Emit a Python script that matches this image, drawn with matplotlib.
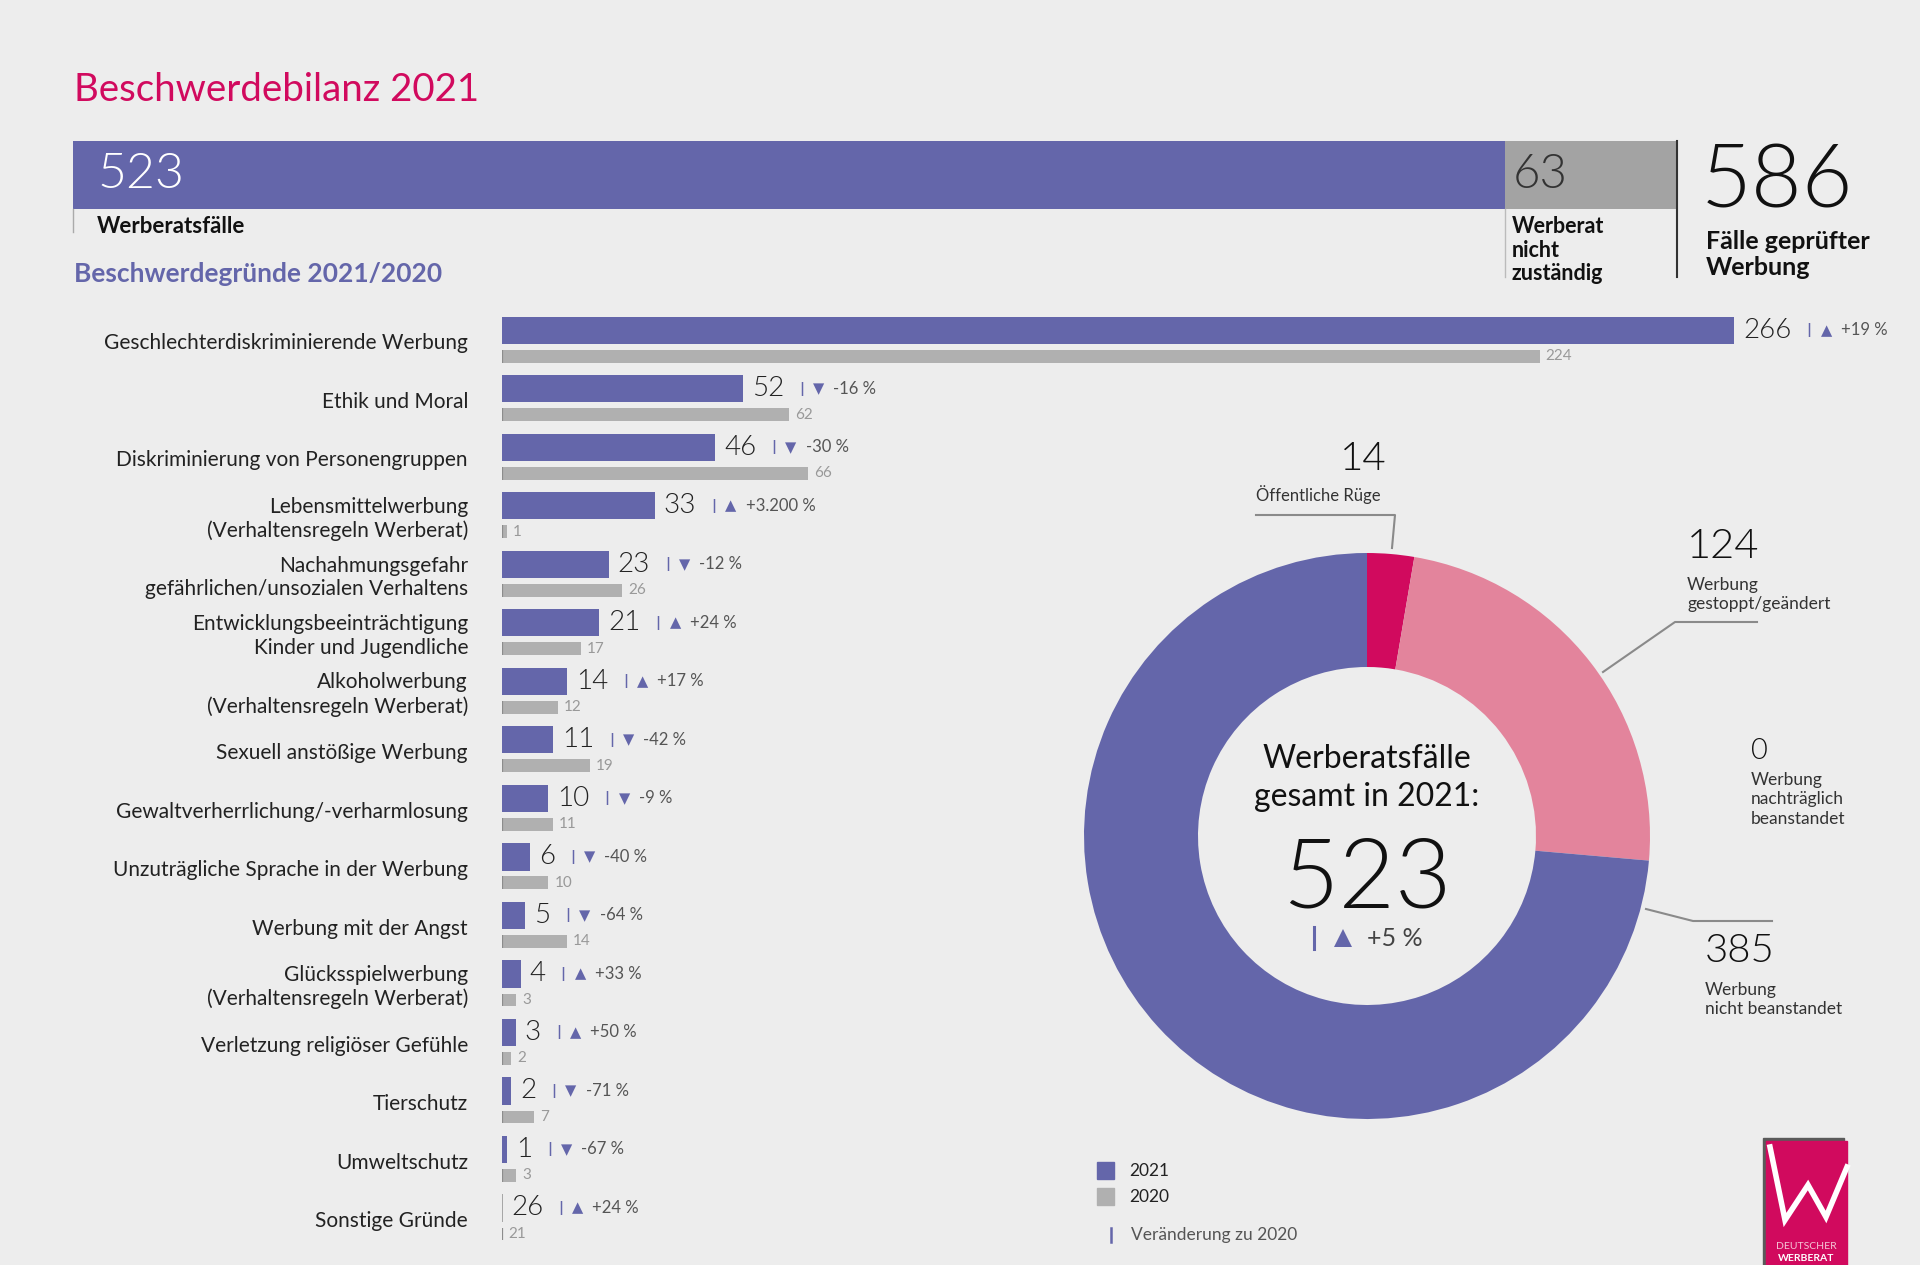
import numpy as np
import matplotlib
matplotlib.use('Agg')
import matplotlib.pyplot as plt
from matplotlib.patches import Rectangle

plt.rcParams['font.family'] = ['Lato', 'DejaVu Sans']

PURPLE = '#6466aa'
GRAY = '#b0b0b0'
BOXGRAY = '#a3a3a3'
MAGENTA = '#d10a5e'
PINK = '#e3849c'
BG = '#ededed'
DARK = '#222222'
LIGHT = 300

# --- data ---
total_checked = 586
werberat_cases = 523
not_responsible = 63

categories = [
    'Geschlechterdiskriminierende Werbung',
    'Ethik und Moral',
    'Diskriminierung von Personengruppen',
    'Lebensmittelwerbung\n(Verhaltensregeln Werberat)',
    'Nachahmungsgefahr\ngefährlichen/unsozialen Verhaltens',
    'Entwicklungsbeeinträchtigung\nKinder und Jugendliche',
    'Alkoholwerbung\n(Verhaltensregeln Werberat)',
    'Sexuell anstößige Werbung',
    'Gewaltverherrlichung/-verharmlosung',
    'Unzuträgliche Sprache in der Werbung',
    'Werbung mit der Angst',
    'Glücksspielwerbung\n(Verhaltensregeln Werberat)',
    'Verletzung religiöser Gefühle',
    'Tierschutz',
    'Umweltschutz',
    'Sonstige Gründe',
]
cases_2021 = [266, 52, 46, 33, 23, 21, 14, 11, 10, 6, 5, 4, 3, 2, 1, 26]
cases_2020 = [224, 62, 66, 1, 26, 17, 12, 19, 11, 10, 14, 3, 2, 7, 3, 21]
change_pct = ['+19', '-16', '-30', '+3.200', '-12', '+24', '+17', '-42',
              '-9', '-40', '-64', '+33', '+50', '-71', '-67', '+24']

outcome_labels = ['Öffentliche Rüge', 'Werbung\ngestoppt/geändert',
                  'Werbung\nnachträglich\nbeanstandet', 'Werbung\nnicht beanstandet']
outcome_values = [14, 124, 0, 385]
total_change = '+5'

W, H = 1920, 1265
fig = plt.figure(figsize=(W / 100, H / 100), dpi=100, facecolor=BG)


def px_axes(left, top, w, h):
    a = fig.add_axes([left / W, 1 - (top + h) / H, w / W, h / H])
    a.set_facecolor('none')
    return a


# canvas in pixel coordinates for free text
cv = px_axes(0, 0, W, H)
cv.set_xlim(0, W)
cv.set_ylim(H, 0)
cv.axis('off')

cv.text(74, 101, 'Beschwerdebilanz 2021', color=MAGENTA, fontsize=27.7,
        va='baseline', ha='left')
cv.text(74, 282, 'Beschwerdegründe 2021/2020', color=PURPLE, fontsize=19,
        fontweight='bold', va='baseline', ha='left')

# --- top summary bar ---
at = px_axes(73, 141, 1604, 68)
at.set_xlim(0, total_checked)
at.set_ylim(0, 1)
at.axis('off')
at.barh(0.5, werberat_cases, height=1, color=PURPLE)
at.barh(0.5, not_responsible, left=werberat_cases, height=1, color=BOXGRAY)
at.plot([0, 0], [0, -0.34], color='#aaaaaa', lw=1, clip_on=False)
at.plot([werberat_cases] * 2, [0, -1.0], color='#bbbbbb', lw=1, clip_on=False)
at.plot([total_checked] * 2, [1, -1.0], color='#333333', lw=1.5, clip_on=False)
at.annotate(str(werberat_cases), xy=(0, 0.5), xytext=(24, 0), textcoords='offset pixels',
            color='white', fontsize=36, fontweight=LIGHT, va='center', ha='left')
at.annotate('Werberatsfälle', xy=(0, 0), xytext=(24, -7), textcoords='offset pixels',
            color='#111111', fontsize=16, fontweight='bold', va='top', ha='left',
            annotation_clip=False)
at.annotate(str(not_responsible), xy=(werberat_cases, 0.5), xytext=(8, 0),
            textcoords='offset pixels', color='#333333', fontsize=34, fontweight=LIGHT,
            va='center', ha='left')
at.annotate('Werberat\nnicht\nzuständig', xy=(werberat_cases, 0), xytext=(7, -7),
            textcoords='offset pixels', color='#111111', fontsize=15.5, fontweight='bold',
            va='top', ha='left', linespacing=1.15, annotation_clip=False)
cv.text(1701, 208, str(total_checked), color='#111111', fontsize=63,
        fontweight=LIGHT, va='baseline', ha='left')
cv.text(1706, 230, 'Fälle geprüfter\nWerbung', color='#111111', fontsize=18,
        fontweight='bold', va='top', ha='left', linespacing=1.17)

# --- complaint reasons bars ---
px_per_case = 4.632
ax = px_axes(502, 299.6, 1400, 965.4)
ax.set_xlim(0, 1400 / px_per_case)
ax.set_ylim(15.75, -0.75)
ax.axis('off')
y = np.arange(len(categories))
drawn = np.array([c != 'Sonstige Gründe' for c in categories])
w21 = np.where(drawn, cases_2021, 0)
w20 = np.where(drawn, cases_2020, 0)
ax.barh(y - 0.225, w21, height=0.465, color=PURPLE, zorder=2)
ax.barh(y + 0.22, w20, height=0.22, color=GRAY, zorder=2)
x0 = np.zeros(len(y))
ax.vlines(x0, y - 0.4575, y + 0.0075, color='#999999', lw=1.2, zorder=1)
ax.vlines(x0, y + 0.11, y + 0.33, color='#8c8c8c', lw=1.6, zorder=3)

for i, cat in enumerate(categories):
    ax.annotate(cat, xy=(0, y[i]), xytext=(-34, 0), textcoords='offset pixels',
                ha='right', va='center', fontsize=15, color=DARK, linespacing=1.22,
                annotation_clip=False)
    num = ax.annotate(str(cases_2021[i]), xy=(w21[i], y[i] - 0.225), xytext=(9, 0),
                      textcoords='offset pixels', ha='left', va='center', fontsize=20,
                      fontweight=LIGHT, color=DARK, annotation_clip=False)
    sep = ax.annotate('|', xy=(1, 0.5), xycoords=num, xytext=(15, 0),
                      textcoords='offset pixels', ha='left', va='center', fontsize=10,
                      fontweight='bold', color=PURPLE, family='DejaVu Sans')
    arrow = '▲' if change_pct[i].startswith('+') else '▼'
    tri = ax.annotate(arrow, xy=(1, 0.5), xycoords=sep, xytext=(9, 0),
                      textcoords='offset pixels', ha='left', va='center', fontsize=10.5,
                      color=PURPLE, family='DejaVu Sans')
    ax.annotate(change_pct[i] + ' %', xy=(1, 0.5), xycoords=tri, xytext=(9, 0),
                textcoords='offset pixels', ha='left', va='center', fontsize=12,
                color='#555555')
    ax.annotate(str(cases_2020[i]), xy=(w20[i], y[i] + 0.22), xytext=(6, 0),
                textcoords='offset pixels', ha='left', va='center', fontsize=11,
                color='#999999', annotation_clip=False)

# --- donut ---
cx, cy, R = 1367, 836, 283
ad = px_axes(cx - R, cy - R, 2 * R, 2 * R)
ad.pie(outcome_values, colors=[MAGENTA, PINK, PINK, PURPLE], startangle=90,
       counterclock=False, radius=1, wedgeprops=dict(width=114 / R, linewidth=0))
ad.set_xlim(-1, 1)
ad.set_ylim(-1, 1)
ad.set_aspect('equal')
ad.axis('off')

cv.text(cx, 744, 'Werberatsfälle\ngesamt in 2021:', ha='center', va='top',
        fontsize=23, color='#111111', linespacing=1.33)
cv.text(cx, 908, str(werberat_cases), ha='center', va='baseline', fontsize=70,
        fontweight=LIGHT, color='#111111')
cv.plot([1314, 1314], [927, 949], color=PURPLE, lw=2.2)
cv.plot(1343, 938, marker='^' if total_change.startswith('+') else 'v',
        ms=12.5, color=PURPLE, mew=0)
cv.text(1367, 938, total_change + ' %', ha='left', va='center', fontsize=18,
        color='#444444')

# outcome labels (value, caption) with leader lines
num_pos = [(1363, 470, 'center', 29), (1687, 558, 'left', 30),
           (1751, 759, 'left', 21), (1705, 962, 'left', 29)]
cap_pos = [(1256, 501, 'baseline'), (1687, 577, 'top'),
           (1751, 772, 'top'), (1705, 982, 'top')]
leaders = [[(1256, 515), (1395, 515), (1392, 548)],
           [(1603, 672), (1675, 622), (1757, 622)],
           None,
           [(1646, 909), (1693, 921), (1772, 921)]]
for k in range(len(outcome_values)):
    nx, ny, nha, nfs = num_pos[k]
    cv.text(nx, ny, str(outcome_values[k]), ha=nha, va='baseline', fontsize=nfs,
            fontweight=LIGHT, color='#111111')
    tx, ty, tva = cap_pos[k]
    cv.text(tx, ty, outcome_labels[k], ha='left', va=tva,
            fontsize=12 if k == 0 else 12.5, color='#333333', linespacing=1.25)
    if leaders[k]:
        lx, ly = zip(*leaders[k])
        cv.plot(lx, ly, color='#8a8a8a', lw=1.5)

# --- legend ---
cv.add_patch(Rectangle((1097, 1162), 17, 17, color=PURPLE))
cv.add_patch(Rectangle((1097, 1188), 17, 17, color=GRAY))
cv.text(1129, 1171, '2021', va='center', ha='left', fontsize=12.5, color=DARK)
cv.text(1129, 1197, '2020', va='center', ha='left', fontsize=12.5, color=DARK)
cv.plot([1111, 1111], [1228, 1242], color=PURPLE, lw=1.8)
cv.text(1131, 1235, 'Veränderung zu 2020', va='center', ha='left', fontsize=12.5,
        color='#555555')

# --- logo ---
cv.add_patch(Rectangle((1763, 1138), 81, 130, color='#5a5a5a'))
cv.add_patch(Rectangle((1766, 1141), 81, 130, color=MAGENTA))
cv.plot([1770, 1785, 1808, 1826, 1847], [1147, 1220, 1185, 1217, 1167],
        color='white', lw=4, solid_joinstyle='miter')
cv.text(1806, 1249, 'DEUTSCHER', ha='center', va='baseline', fontsize=7.5,
        color='#f5c6d6')
cv.text(1806, 1261, 'WERBERAT', ha='center', va='baseline', fontsize=7.5,
        fontweight='bold', color='white')

fig.savefig('out.png', dpi=100, facecolor=BG)
